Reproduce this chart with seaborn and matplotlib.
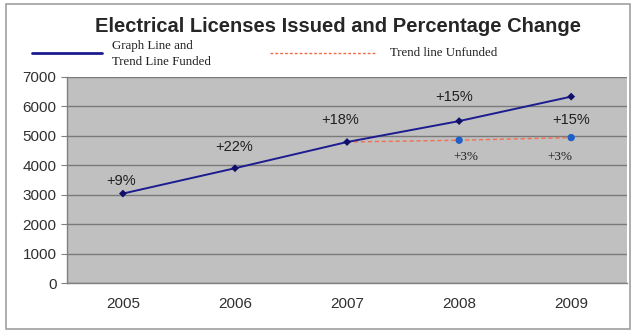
import matplotlib
matplotlib.use("Agg")
import matplotlib.pyplot as plt
import seaborn as sns
import pandas as pd
from matplotlib.lines import Line2D
from matplotlib.patches import Rectangle

# data
years = ["2005", "2006", "2007", "2008", "2009"]
funded = [3040, 3900, 4790, 5500, 6330]
funded_labels = ["+9%", "+22%", "+18%", "+15%", "+15%"]
unfunded_years = ["2007", "2008", "2009"]
unfunded = [4790, 4850, 4940]
unfunded_labels = ["", "+3%", "+3%"]

SANS = ["Liberation Sans", "DejaVu Sans"]
SERIF = ["Liberation Serif", "DejaVu Serif"]

sns.set_style("white", {"axes.facecolor": "#c0c0c0"})
plt.rcParams["font.family"] = SANS

df_f = pd.DataFrame({"year": years, "value": funded})
df_u = pd.DataFrame({"year": unfunded_years, "value": unfunded})
pos = {y: i for i, y in enumerate(years)}
df_f["x"] = df_f["year"].map(pos)
df_u["x"] = df_u["year"].map(pos)

fig = plt.figure(figsize=(6.31, 3.30), dpi=100)
ax = fig.add_axes([0.106, 0.142, 0.888, 0.625])

# horizontal gridlines
ax.set_axisbelow(True)
ax.yaxis.grid(True, color="#7a7a7a", linewidth=1.0)

sns.lineplot(data=df_u, x="x", y="value", ax=ax, color="#f07050",
             linestyle=(0, (3, 2)), linewidth=1.0, zorder=2)
sns.scatterplot(data=df_u.iloc[1:], x="x", y="value", ax=ax, color="#1f5fc8",
                marker="o", s=28, edgecolor="none", zorder=3)
sns.lineplot(data=df_f, x="x", y="value", ax=ax, color="#1c1c90",
             linewidth=1.4, zorder=4)
sns.scatterplot(data=df_f, x="x", y="value", ax=ax, color="#10106a",
                marker="D", s=16, edgecolor="none", zorder=5)

# percentage labels (pixel offsets from each point)
offsets = [(-2, 13), (-1, 21), (-7, 22), (-5, 24), (0, -23)]
for i, (lab, v) in enumerate(zip(funded_labels, funded)):
    dx, dy = offsets[i]
    ax.annotate(lab, (i, v), xytext=(dx, dy), textcoords="offset pixels",
                ha="center", va="center", fontsize=10.5, color="#202020")
u_offsets = [(0, 0), (7, -17), (-11, -19)]
for lab, v, y, (dx, dy) in zip(unfunded_labels, unfunded, unfunded_years, u_offsets):
    if lab:
        ax.annotate(lab, (pos[y], v), xytext=(dx, dy), textcoords="offset pixels",
                    ha="center", va="center", fontsize=9.5, color="#202020",
                    family=SERIF)

ax.set_xlim(-0.5, len(years) - 0.5)
ax.set_ylim(0, 7000)
ax.set_yticks(range(0, 7001, 1000))
ax.set_xticks(range(len(years)))
ax.set_xticklabels(years)
ax.set_xticks([i + 0.5 for i in range(len(years) - 1)], minor=True)
ax.tick_params(axis="x", which="major", length=0, pad=10, labelsize=11, labelcolor="#303030")
ax.tick_params(axis="x", which="minor", length=4, color="#808080", direction="out")
ax.tick_params(axis="y", length=4, color="#808080", labelsize=11, labelcolor="#303030", left=True)
ax.set_xlabel("")
ax.set_ylabel("")
for side in ["top", "right"]:
    ax.spines[side].set_visible(False)
for side in ["left", "bottom"]:
    ax.spines[side].set_color("#808080")
    ax.spines[side].set_linewidth(1.0)

# title and legend (drawn above the plot area)
fig.text(0.535, 0.921, "Electrical Licenses Issued and Percentage Change",
         ha="center", va="center", fontsize=14.5, fontweight="bold")
fig.add_artist(Line2D([0.051, 0.162], [0.840, 0.840], color="#1c1c90", linewidth=2.0))
fig.text(0.177, 0.837, "Graph Line and\nTrend Line Funded", ha="left", va="center",
         fontsize=9.3, family=SERIF, linespacing=1.45, color="#202020")
fig.add_artist(Line2D([0.428, 0.594], [0.838, 0.838], color="#f06848",
                      linewidth=1.0, linestyle=(0, (2, 1.5))))
fig.text(0.618, 0.838, "Trend line Unfunded", ha="left", va="center",
         fontsize=9.3, family=SERIF, color="#202020")

# outer frame
fig.add_artist(Rectangle((0.010, 0.003), 0.988, 0.984, transform=fig.transFigure,
                         fill=False, edgecolor="#a0a0a0", linewidth=1.2))

fig.savefig("out.png", dpi=100)
